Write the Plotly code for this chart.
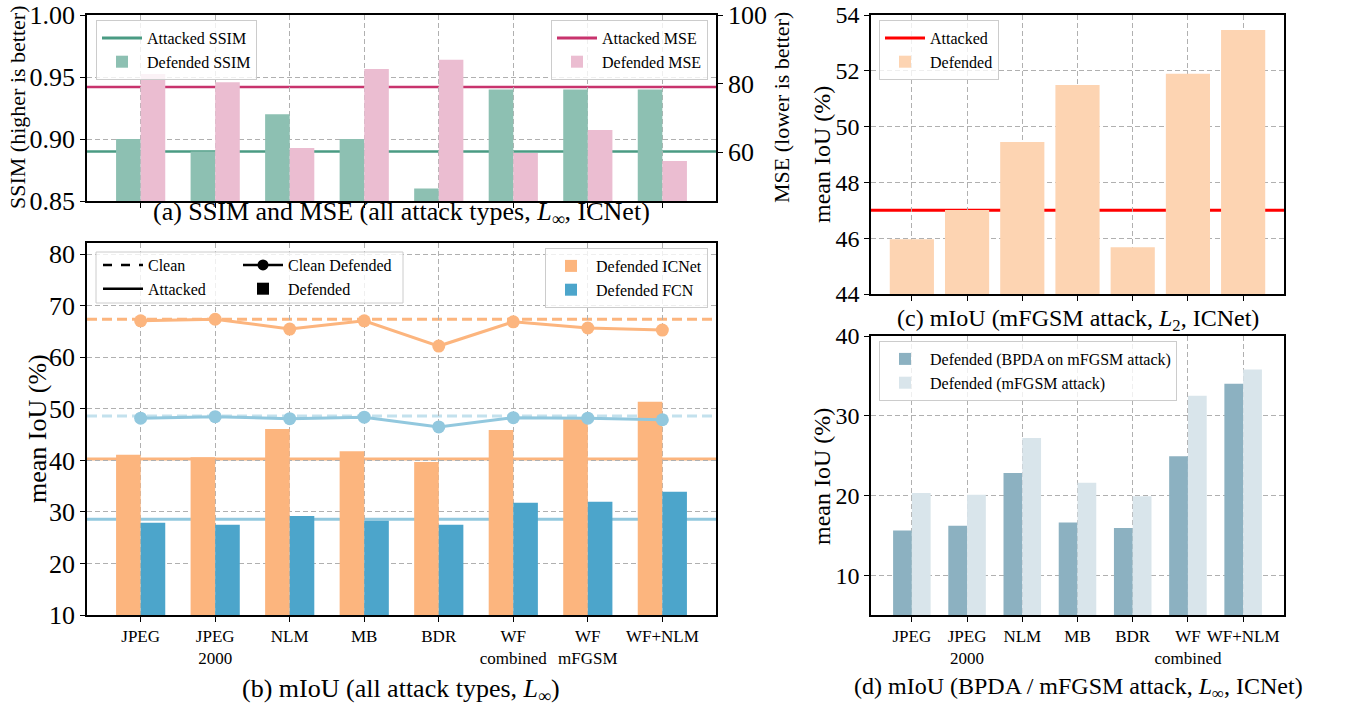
import plotly.graph_objects as go

# ---------------- data ----------------
cats_ab = ["JPEG", "JPEG<br>2000", "NLM", "MB", "BDR", "WF<br>combined", "WF<br>mFGSM", "WF+NLM"]
ssim_defended = [0.90, 0.89, 0.92, 0.90, 0.86, 0.94, 0.94, 0.94]
ssim_attacked = 0.89
mse_defended = [82.8, 80.4, 61.2, 84.2, 86.9, 59.7, 66.4, 57.4]
mse_attacked = 79.0

icnet_defended = [41.1, 40.6, 46.1, 41.8, 39.7, 45.9, 48.0, 51.4]
fcn_defended = [27.9, 27.5, 29.2, 28.3, 27.5, 31.8, 32.0, 33.9]
icnet_clean_defended = [67.1, 67.4, 65.5, 67.1, 62.2, 66.9, 65.7, 65.3]
fcn_clean_defended = [48.2, 48.5, 48.1, 48.4, 46.5, 48.3, 48.2, 47.9]
icnet_clean = 67.4
icnet_attacked = 40.3
fcn_clean = 48.6
fcn_attacked = 28.6

cats_cd = ["JPEG", "JPEG<br>2000", "NLM", "MB", "BDR", "WF<br>combined", "WF+NLM"]
l2_defended = [45.96, 47.01, 49.45, 51.49, 45.68, 51.89, 53.46]
l2_attacked = 47.0
bpda_defended = [15.6, 16.2, 22.8, 16.6, 15.9, 24.9, 34.0]
mfgsm_defended = [20.3, 20.1, 27.2, 21.6, 19.9, 32.5, 35.8]

# ---------------- styling ----------------
W, H = 1369, 707
FONT = "Liberation Serif, Times New Roman, serif"
def px(x): return x / W
def py(y): return 1 - y / H

TEAL_BAR, TEAL_LINE = "#8dc0b2", "#4a9b83"
PINK_BAR, PINK_LINE = "#ebbdd1", "#c8336d"
ORANGE = "#fcb57e"
BLUE_BAR, BLUE_LINE, BLUE_LIGHT = "#4ca5cb", "#92c8de", "#c3e1ed"
PEACH = "#fdd4b2"
D_DARK, D_LIGHT = "#8cb1c1", "#d9e5eb"

fig = go.Figure()

# ---------- (a) ----------
fig.add_trace(go.Bar(x=cats_ab, y=ssim_defended, width=0.33, offset=-0.33, marker_color=TEAL_BAR,
                     marker_line_width=0, name="Defended SSIM", legend="legend", xaxis="x", yaxis="y"))
fig.add_trace(go.Bar(x=cats_ab, y=mse_defended, width=0.33, offset=0.0, marker_color=PINK_BAR,
                     marker_line_width=0, name="Defended MSE", legend="legend2", xaxis="x", yaxis="y2"))
fig.add_trace(go.Scatter(x=[None], y=[None], mode="lines", line=dict(color=TEAL_LINE, width=3),
                         name="Attacked SSIM", legend="legend", xaxis="x", yaxis="y"))
fig.add_trace(go.Scatter(x=[None], y=[None], mode="lines", line=dict(color=PINK_LINE, width=3),
                         name="Attacked MSE", legend="legend2", xaxis="x", yaxis="y2"))

# ---------- (b) ----------
fig.add_trace(go.Bar(x=cats_ab, y=icnet_defended, width=0.33, offset=-0.33, marker_color=ORANGE,
                     marker_line_width=0, name="Defended ICNet", legend="legend5", xaxis="x2", yaxis="y3"))
fig.add_trace(go.Bar(x=cats_ab, y=fcn_defended, width=0.33, offset=0.0, marker_color=BLUE_BAR,
                     marker_line_width=0, name="Defended FCN", legend="legend5", xaxis="x2", yaxis="y3"))
fig.add_trace(go.Scatter(x=cats_ab, y=icnet_clean_defended, mode="lines+markers",
                         line=dict(color=ORANGE, width=3), marker=dict(size=13, color=ORANGE),
                         showlegend=False, xaxis="x2", yaxis="y3"))
fig.add_trace(go.Scatter(x=cats_ab, y=fcn_clean_defended, mode="lines+markers",
                         line=dict(color=BLUE_LINE, width=3), marker=dict(size=13, color=BLUE_LINE),
                         showlegend=False, xaxis="x2", yaxis="y3"))
# style legend (black samples)
fig.add_trace(go.Scatter(x=[None], y=[None], mode="lines", line=dict(color="black", width=2.5, dash="dash"),
                         name="Clean", legend="legend3", xaxis="x2", yaxis="y3"))
fig.add_trace(go.Scatter(x=[None], y=[None], mode="lines", line=dict(color="black", width=2.5),
                         name="Attacked", legend="legend3", xaxis="x2", yaxis="y3"))
fig.add_trace(go.Scatter(x=[None], y=[None], mode="lines+markers", line=dict(color="black", width=2.5),
                         marker=dict(size=11, color="black"),
                         name="Clean Defended", legend="legend4", xaxis="x2", yaxis="y3"))
fig.add_trace(go.Bar(x=[None], y=[None], marker_color="black",
                     name="Defended", legend="legend4", xaxis="x2", yaxis="y3"))

# ---------- (c) ----------
fig.add_trace(go.Bar(x=cats_cd, y=l2_defended, width=0.8, offset=-0.4, marker_color=PEACH,
                     marker_line_width=0, name="Defended", legend="legend6", xaxis="x3", yaxis="y4"))
fig.add_trace(go.Scatter(x=[None], y=[None], mode="lines", line=dict(color="red", width=3),
                         name="Attacked", legend="legend6", xaxis="x3", yaxis="y4"))

# ---------- (d) ----------
fig.add_trace(go.Bar(x=cats_cd, y=bpda_defended, width=0.34, offset=-0.34, marker_color=D_DARK,
                     marker_line_width=0, name="Defended (BPDA on mFGSM attack)", legend="legend7",
                     xaxis="x4", yaxis="y5"))
fig.add_trace(go.Bar(x=cats_cd, y=mfgsm_defended, width=0.34, offset=0.0, marker_color=D_LIGHT,
                     marker_line_width=0, name="Defended (mFGSM attack)", legend="legend7",
                     xaxis="x4", yaxis="y5"))

# ---------- horizontal reference lines ----------
def hline(y, yref, xref, color, width, dash="solid", layer="below"):
    fig.add_shape(type="line", xref=f"{xref} domain", yref=yref, x0=0, x1=1, y0=y, y1=y,
                  line=dict(color=color, width=width, dash=dash), layer=layer)

hline(ssim_attacked, "y", "x", TEAL_LINE, 2.5)
hline(mse_attacked, "y2", "x", PINK_LINE, 2.5)
hline(icnet_attacked, "y3", "x2", ORANGE, 3)
hline(fcn_attacked, "y3", "x2", BLUE_LINE, 3)
hline(icnet_clean, "y3", "x2", ORANGE, 3, "10px,5px")
hline(fcn_clean, "y3", "x2", BLUE_LIGHT, 3, "10px,5px")
hline(l2_attacked, "y4", "x3", "red", 3)

# frame for the two-column style legend in (b)
fig.add_shape(type="rect", xref="paper", yref="paper", x0=px(96), x1=px(403), y0=py(303), y1=py(252),
              line=dict(color="#cccccc", width=1), fillcolor="rgba(255,255,255,0.8)", layer="above")

# ---------- axes ----------
grid = dict(showgrid=True, gridcolor="#b0b0b0", gridwidth=1, griddash="5px,3px")
spine = dict(showline=True, linecolor="black", linewidth=1.5, mirror=True, ticks="outside",
             ticklen=5, tickwidth=1.2, tickcolor="black", zeroline=False, automargin=False)
tick_left = dict(family=FONT, size=26, color="black")
tick_right = dict(family=FONT, size=24, color="black")
tickf_cat = dict(family=FONT, size=17, color="black")

fig.update_layout(
    xaxis=dict(type="category", domain=[px(87), px(716)], anchor="y", range=[-0.72, 7.72],
               showticklabels=False, **grid, **spine),
    yaxis=dict(domain=[py(201), py(15)], anchor="x", range=[0.85, 1.0], tickvals=[0.85, 0.90, 0.95, 1.00],
               tickformat=".2f", tickfont=tick_left, **grid, **spine),
    yaxis2=dict(overlaying="y", anchor="x", side="right", range=[45.7, 100], tickvals=[60, 80, 100],
                tickfont=tick_left, showgrid=False, showline=True, linecolor="black", linewidth=1.5,
                ticks="outside", ticklen=5, tickwidth=1.2, tickcolor="black", zeroline=False,
                automargin=False),
    xaxis2=dict(type="category", domain=[px(87), px(716)], anchor="y3", range=[-0.72, 7.72],
                tickfont=tickf_cat, tickangle=0, **grid, **spine),
    yaxis3=dict(domain=[py(615), py(243)], anchor="x2", range=[10, 82.2], dtick=10,
                tickfont=tick_left, **grid, **spine),
    xaxis3=dict(type="category", domain=[px(871), px(1284)], anchor="y4", range=[-0.74, 6.74],
                showticklabels=False, **grid, **spine),
    yaxis4=dict(domain=[py(294), py(15)], anchor="x3", range=[44, 54], dtick=2,
                tickfont=tick_right, **grid, **spine),
    xaxis4=dict(type="category", domain=[px(871), px(1284)], anchor="y5", range=[-0.74, 6.74],
                tickfont=tickf_cat, tickangle=0, **grid, **spine),
    yaxis5=dict(domain=[py(615), py(336)], anchor="x4", range=[5, 40], tickvals=[10, 20, 30, 40],
                tickfont=tick_right, **grid, **spine),
)

# ---------- legends ----------
leg_font = dict(family=FONT, size=16, color="black")
framed = dict(bgcolor="rgba(255,255,255,0.8)", bordercolor="#cccccc", borderwidth=1, font=leg_font,
              yanchor="top", tracegroupgap=0, itemwidth=40, traceorder="reversed")
plain = dict(bgcolor="rgba(0,0,0,0)", borderwidth=0, font=leg_font, yanchor="top", itemwidth=40,
             traceorder="normal")
fig.update_layout(
    legend=dict(x=px(96), y=py(20), xanchor="left", **framed),
    legend2=dict(x=px(708), y=py(20), xanchor="right", **framed),
    legend3=dict(x=px(98), y=py(248), xanchor="left", **plain),
    legend4=dict(x=px(238), y=py(248), xanchor="left", **plain),
    legend5=dict(x=px(708), y=py(248), xanchor="right", **dict(framed, traceorder="normal")),
    legend6=dict(x=px(879), y=py(20), xanchor="left", **framed),
    legend7=dict(x=px(879), y=py(341), xanchor="left", **dict(framed, traceorder="normal")),
)

# ---------- captions and axis titles ----------
cap_left = dict(family=FONT, size=26, color="black")
cap_right = dict(family=FONT, size=24, color="black")
ann = [
    dict(x=px(401), y=py(213), text="(a) SSIM and MSE (all attack types, <i>L</i><sub>∞</sub>, ICNet)", font=cap_left),
    dict(x=px(401), y=py(690), text="(b) mIoU (all attack types, <i>L</i><sub>∞</sub>)", font=cap_left),
    dict(x=px(1078), y=py(320), text="(c) mIoU (mFGSM attack, <i>L</i><sub>2</sub>, ICNet)", font=cap_right),
    dict(x=px(1078), y=py(688), text="(d) mIoU (BPDA / mFGSM attack, <i>L</i><sub>∞</sub>, ICNet)", font=cap_right),
    dict(x=px(18), y=py(108), text="SSIM (higher is better)", textangle=-90,
         font=dict(family=FONT, size=22, color="black")),
    dict(x=px(782), y=py(108), text="MSE (lower is better)", textangle=-90,
         font=dict(family=FONT, size=22, color="black")),
    dict(x=px(37), y=py(429), text="mean IoU (%)", textangle=-90,
         font=dict(family=FONT, size=26, color="black")),
    dict(x=px(822), y=py(155), text="mean IoU (%)", textangle=-90,
         font=dict(family=FONT, size=24, color="black")),
    dict(x=px(822), y=py(477), text="mean IoU (%)", textangle=-90,
         font=dict(family=FONT, size=24, color="black")),
]
for a in ann:
    fig.add_annotation(xref="paper", yref="paper", showarrow=False, xanchor="center", yanchor="middle", **a)

fig.update_layout(
    template="none",
    width=W, height=H, margin=dict(l=0, r=0, t=0, b=0, autoexpand=False),
    paper_bgcolor="white", plot_bgcolor="white",
    barmode="overlay", font=dict(family=FONT, color="black"),
)

fig.write_html("out.html", config={"displayModeBar": False},
               post_script="document.body.style.margin='0px';")
